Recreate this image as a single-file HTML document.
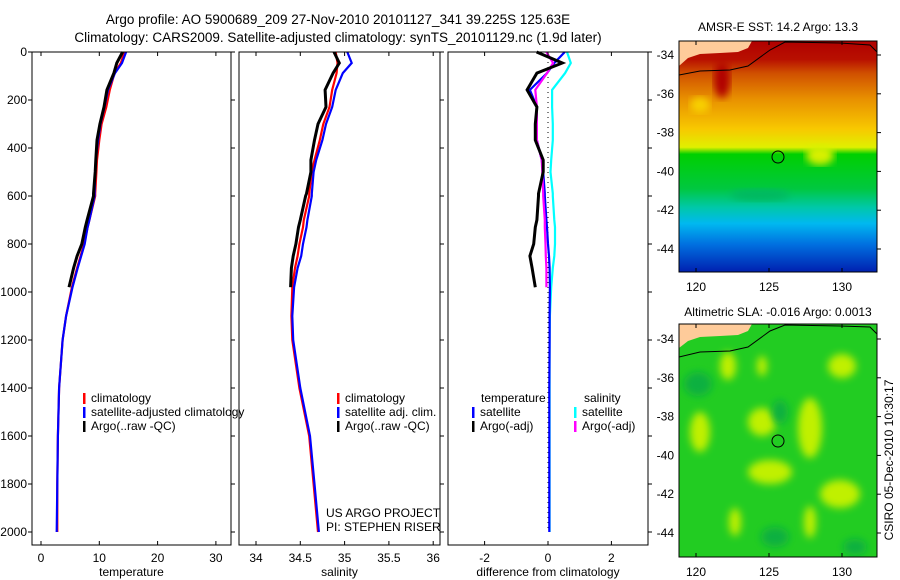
<!DOCTYPE html>
<html><head><meta charset="utf-8"><style>
body{margin:0;background:#fff;}
svg{display:block;font-family:"Liberation Sans",sans-serif;}
</style></head><body>
<svg id="fig" width="900" height="580" viewBox="0 0 900 580">
<defs>
<linearGradient id="sstGrad" x1="0" y1="0" x2="0" y2="1">
<stop offset="0" stop-color="#b00000"/><stop offset="0.08" stop-color="#b81000"/>
<stop offset="0.14" stop-color="#d05000"/><stop offset="0.25" stop-color="#e89000"/>
<stop offset="0.38" stop-color="#f8c800"/><stop offset="0.46" stop-color="#e0f000"/>
<stop offset="0.49" stop-color="#00d000"/><stop offset="0.64" stop-color="#00c840"/>
<stop offset="0.72" stop-color="#00c8a8"/><stop offset="0.79" stop-color="#00b8f0"/>
<stop offset="0.88" stop-color="#0070e0"/><stop offset="1" stop-color="#0020b0"/>
</linearGradient>
<filter id="blur"><feGaussianBlur stdDeviation="4"/></filter>
<clipPath id="clipTop"><rect x="679" y="41" width="198" height="231"/></clipPath>
<clipPath id="clipBot"><rect x="679" y="324" width="198" height="233"/></clipPath>
</defs>
<text x="338" y="24" font-size="13.5" text-anchor="middle">Argo profile: AO 5900689_209 27-Nov-2010 20101127_341 39.225S 125.63E</text>
<text x="338" y="42" font-size="13.5" text-anchor="middle">Climatology: CARS2009. Satellite-adjusted climatology: synTS_20101129.nc (1.9d later)</text>
<g id="panels"></g>

<g>
<text x="778" y="31" font-size="12" text-anchor="middle">AMSR-E SST: 14.2 Argo: 13.3</text>
<g clip-path="url(#clipTop)">
<rect x="679" y="41" width="198" height="231" fill="url(#sstGrad)"/>
<ellipse cx="722" cy="80" rx="8" ry="18" fill="#b00000" filter="url(#blur)"/>
<ellipse cx="700" cy="105" rx="10" ry="8" fill="#f8d000" filter="url(#blur)"/>
<ellipse cx="820" cy="155" rx="14" ry="10" fill="#d8f000" filter="url(#blur)"/>
<ellipse cx="760" cy="195" rx="30" ry="6" fill="#00b860" filter="url(#blur)"/>
<polygon points="679,41 752,41 748,48 738,52 720,53 700,54 688,58 679,66" fill="#fecb9a"/>
<polyline points="679,75 700,71 730,70 748,66 770,50 785,42 840,43 870,45 877,52" fill="none" stroke="#000" stroke-width="1"/>
<circle cx="778" cy="157" r="6" fill="none" stroke="#000"/>
</g>
<rect x="679" y="41" width="198" height="231" fill="none" stroke="#000"/>
<g id="sstTicks"></g>
</g>

<g>
<text x="778" y="316" font-size="12" text-anchor="middle">Altimetric SLA: -0.016 Argo: 0.0013</text>
<g clip-path="url(#clipBot)">
<rect x="679" y="324" width="198" height="233" fill="#22cc22"/>
<g fill="#c0f000" filter="url(#blur)">
<ellipse cx="728" cy="366" rx="8" ry="14"/><ellipse cx="762" cy="366" rx="5" ry="10"/>
<ellipse cx="842" cy="366" rx="14" ry="12"/><ellipse cx="810" cy="428" rx="12" ry="30"/>
<ellipse cx="762" cy="422" rx="14" ry="14"/><ellipse cx="700" cy="432" rx="10" ry="20"/>
<ellipse cx="770" cy="472" rx="22" ry="12"/><ellipse cx="840" cy="494" rx="20" ry="14"/>
<ellipse cx="810" cy="522" rx="6" ry="16"/><ellipse cx="735" cy="522" rx="6" ry="14"/>
</g>
<g fill="#10b040" filter="url(#blur)">
<ellipse cx="698" cy="384" rx="14" ry="12"/><ellipse cx="775" cy="537" rx="14" ry="10"/>
<ellipse cx="855" cy="547" rx="12" ry="8"/><ellipse cx="780" cy="412" rx="8" ry="12"/>
</g>
<polygon points="679,324 752,324 748,331 738,335 720,336 700,337 688,341 679,348" fill="#fecb9a"/>
<polyline points="679,357 700,352 730,351 748,347 770,331 785,325 840,326 870,327 877,334" fill="none" stroke="#000" stroke-width="1"/>
<circle cx="778" cy="441" r="6" fill="none" stroke="#000"/>
</g>
<rect x="679" y="324" width="198" height="233" fill="none" stroke="#000"/>
<g id="slaTicks"></g>
</g>
<text transform="translate(893,460) rotate(-90)" font-size="12" text-anchor="middle">CSIRO 05-Dec-2010 10:30:17</text>
</svg>
<script>
const depthTicks=[0,200,400,600,800,1000,1200,1400,1600,1800,2000];
const depths=[0,46,88,158,229,300,367,450,500,590,600,700,730,800,850,900,980,1100,1200,1400,1600,1800,2000];
const tempClim=[14.3,13.7,12.6,11.8,11.2,10.4,10.0,9.6,9.5,9.3,9.3,8.3,8.0,7.4,6.8,6.2,5.3,4.3,3.7,3.1,2.9,2.8,2.8];
const tempSat=[14.6,13.9,12.7,11.5,10.9,10.2,9.8,9.4,9.3,9.2,9.2,8.3,8.0,7.5,6.9,6.3,5.4,4.3,3.7,3.1,2.9,2.8,2.7];
const tempArgo=[14.0,13.0,12.5,11.3,10.8,10.1,9.6,9.4,9.3,9.0,9.0,7.9,7.6,7.0,6.2,5.6,4.8];
const salClim=[34.9,34.92,34.91,34.86,34.83,34.76,34.72,34.66,34.63,34.6,34.6,34.54,34.53,34.49,34.47,34.44,34.41,34.4,34.41,34.49,34.6,34.65,34.7];
const salSat=[35.03,35.08,34.98,34.9,34.86,34.79,34.75,34.68,34.65,34.63,34.63,34.58,34.57,34.53,34.51,34.47,34.43,34.41,34.42,34.5,34.61,34.66,34.71];
const salArgo=[34.88,34.94,34.87,34.78,34.79,34.7,34.66,34.62,34.62,34.57,34.56,34.5,34.48,34.45,34.42,34.4,34.39];
const dTempSat=[0.53,0.2,-0.03,-0.57,-0.35,-0.35,-0.35,-0.2,-0.15,-0.1,-0.1,-0.05,-0.03,0.0,0.03,0.05,0.06,0.05,0.05,0.04,0.04,0.04,0.04];
const dTempArgo=[-0.36,0.45,-0.35,-0.66,-0.35,-0.4,-0.4,-0.15,-0.15,-0.3,-0.3,-0.35,-0.4,-0.45,-0.57,-0.5,-0.4];
const dSalSat=[0.6,0.72,0.54,0.13,0.13,0.15,0.15,0.1,0.08,0.15,0.15,0.2,0.22,0.22,0.2,0.15,0.1,0.06,0.05,0.05,0.05,0.05,0.05];
const dSalArgo=[-0.05,0.16,-0.03,-0.4,-0.35,-0.35,-0.35,-0.2,-0.18,-0.15,-0.15,-0.1,-0.1,-0.08,-0.07,-0.05,-0.05];
const tempTicks=[0,10,20,30];
const salTicks=[34,34.5,35,35.5,36];
const diffTicks=[-2,0,2];
const lonTicks=[120,125,130];
const latTicks=[-34,-36,-38,-40,-42,-44];

const NS='http://www.w3.org/2000/svg';
function mk(tag,attrs,parent,txt){const e=document.createElementNS(NS,tag);for(const k in attrs)e.setAttribute(k,attrs[k]);if(txt!==undefined)e.textContent=txt;parent.appendChild(e);return e;}
const yD=d=>52+d*0.24;
const pTop=52,pBot=545;
const panels=[
 {name:'temperature-panel',x0:32,x1:231,xv0:0,px0:41,scale:5.83,ticks:tempTicks,label:'temperature',series:[['climatology-line','#f00',tempClim],['satellite-line','#00f',tempSat],['argo-line','#000',tempArgo]]},
 {name:'salinity-panel',x0:239,x1:440,xv0:34,px0:256,scale:88.6,ticks:salTicks,label:'salinity',series:[['climatology-line','#f00',salClim],['satellite-line','#00f',salSat],['argo-line','#000',salArgo]]},
 {name:'difference-panel',x0:448,x1:648,xv0:0,px0:548,scale:31.7,ticks:diffTicks,label:'difference from climatology',series:[['sal-satellite-line','#0ff',dSalSat],['temp-satellite-line','#00f',dTempSat],['sal-argo-line','#f0f',dSalArgo],['temp-argo-line','#000',dTempArgo]]}
];
const G=document.getElementById('panels');
panels.forEach((p,pi)=>{
 const g=mk('g',{},G);
 
 
 const xs=v=>p.px0+(v-p.xv0)*p.scale;
 if(pi==2){const z=mk('line',{x1:xs(0),x2:xs(0),y1:yD(0),y2:yD(2000),stroke:'#000','stroke-dasharray':'1 4'},g);
  
  }
 p.series.forEach(s=>{
  const pts=s[2].map((v,i)=>xs(v).toFixed(1)+','+yD(depths[i]).toFixed(1)).join(' ');
  const l=mk('polyline',{points:pts,fill:'none',stroke:s[1],'stroke-width':s[1]=='#000'?3:2.2},g);
  
  
 });
 mk('rect',{x:p.x0,y:pTop,width:p.x1-p.x0,height:pBot-pTop,fill:'none',stroke:'#000'},g);
 p.ticks.forEach(t=>{
  const x=xs(t);
  mk('line',{x1:x,x2:x,y1:pBot,y2:pBot-4,stroke:'#000'},g);
  mk('line',{x1:x,x2:x,y1:pTop,y2:pTop+4,stroke:'#000'},g);
  const tl=mk('text',{x:x,y:pBot+17,'font-size':12,'text-anchor':'middle'},g,String(t));
  
  
 });
 depthTicks.forEach(d=>{
  mk('line',{x1:p.x0,x2:p.x0-(pi==0?4:0),y1:yD(d),y2:yD(d),stroke:'#000'},g);
  mk('line',{x1:p.x1,x2:p.x1+4,y1:yD(d),y2:yD(d),stroke:'#000'},g);
  if(pi==0){const t=mk('text',{x:27,y:yD(d)+4,'font-size':12,'text-anchor':'end'},g,String(d));
   
   }
 });
 const al=mk('text',{x:(p.x0+p.x1)/2,y:pBot+31,'font-size':12,'text-anchor':'middle'},g,p.label);
 
 
});
function legend(x,y,items,parent){
 items.forEach((it,i)=>{
  const g=mk('g',{},parent);
  
  
  mk('rect',{x:x,y:y+i*14-9,width:2.5,height:11,fill:it[1]},g);
  mk('text',{x:x+8,y:y+i*14,'font-size':12},g,it[0]);
 });
}
legend(83,402,[['climatology','#f00'],['satellite-adjusted climatology','#00f'],['Argo(..raw -QC)','#000']],G);
legend(337,402,[['climatology','#f00'],['satellite adj. clim.','#00f'],['Argo(..raw -QC)','#000']],G);
mk('text',{x:481,y:402,'font-size':12},G,'temperature');
mk('text',{x:584,y:402,'font-size':12},G,'salinity');
legend(472,416,[['satellite','#00f'],['Argo(-adj)','#000']],G);
legend(574,416,[['satellite','#0ff'],['Argo(-adj)','#f0f']],G);
const cr=mk('text',{x:326,y:517,'font-size':12},G,'US ARGO PROJECT');


const cr2=mk('text',{x:326,y:531,'font-size':12},G,'PI: STEPHEN RISER');



function mapTicks(id,yTop,yBot,lat34){
 const g=document.getElementById(id);
 lonTicks.forEach(l=>{const x=696+(l-120)*14.6;
  mk('line',{x1:x,x2:x,y1:yBot,y2:yBot-4,stroke:'#000'},g);mk('line',{x1:x,x2:x,y1:yTop,y2:yTop+4,stroke:'#000'},g);
  const t=mk('text',{x:x,y:yBot+19,'font-size':12,'text-anchor':'middle'},g,String(l));
  
  });
 latTicks.forEach(l=>{const y=lat34+(-34-l)*19.4;
  mk('line',{x1:877,x2:881,y1:y,y2:y,stroke:'#000'},g);
  const t=mk('text',{x:674,y:y+4,'font-size':12,'text-anchor':'end'},g,String(l));
  
  });
}
mapTicks('sstTicks',41,272,55);
mapTicks('slaTicks',324,557,339);
</script>
</body></html>
